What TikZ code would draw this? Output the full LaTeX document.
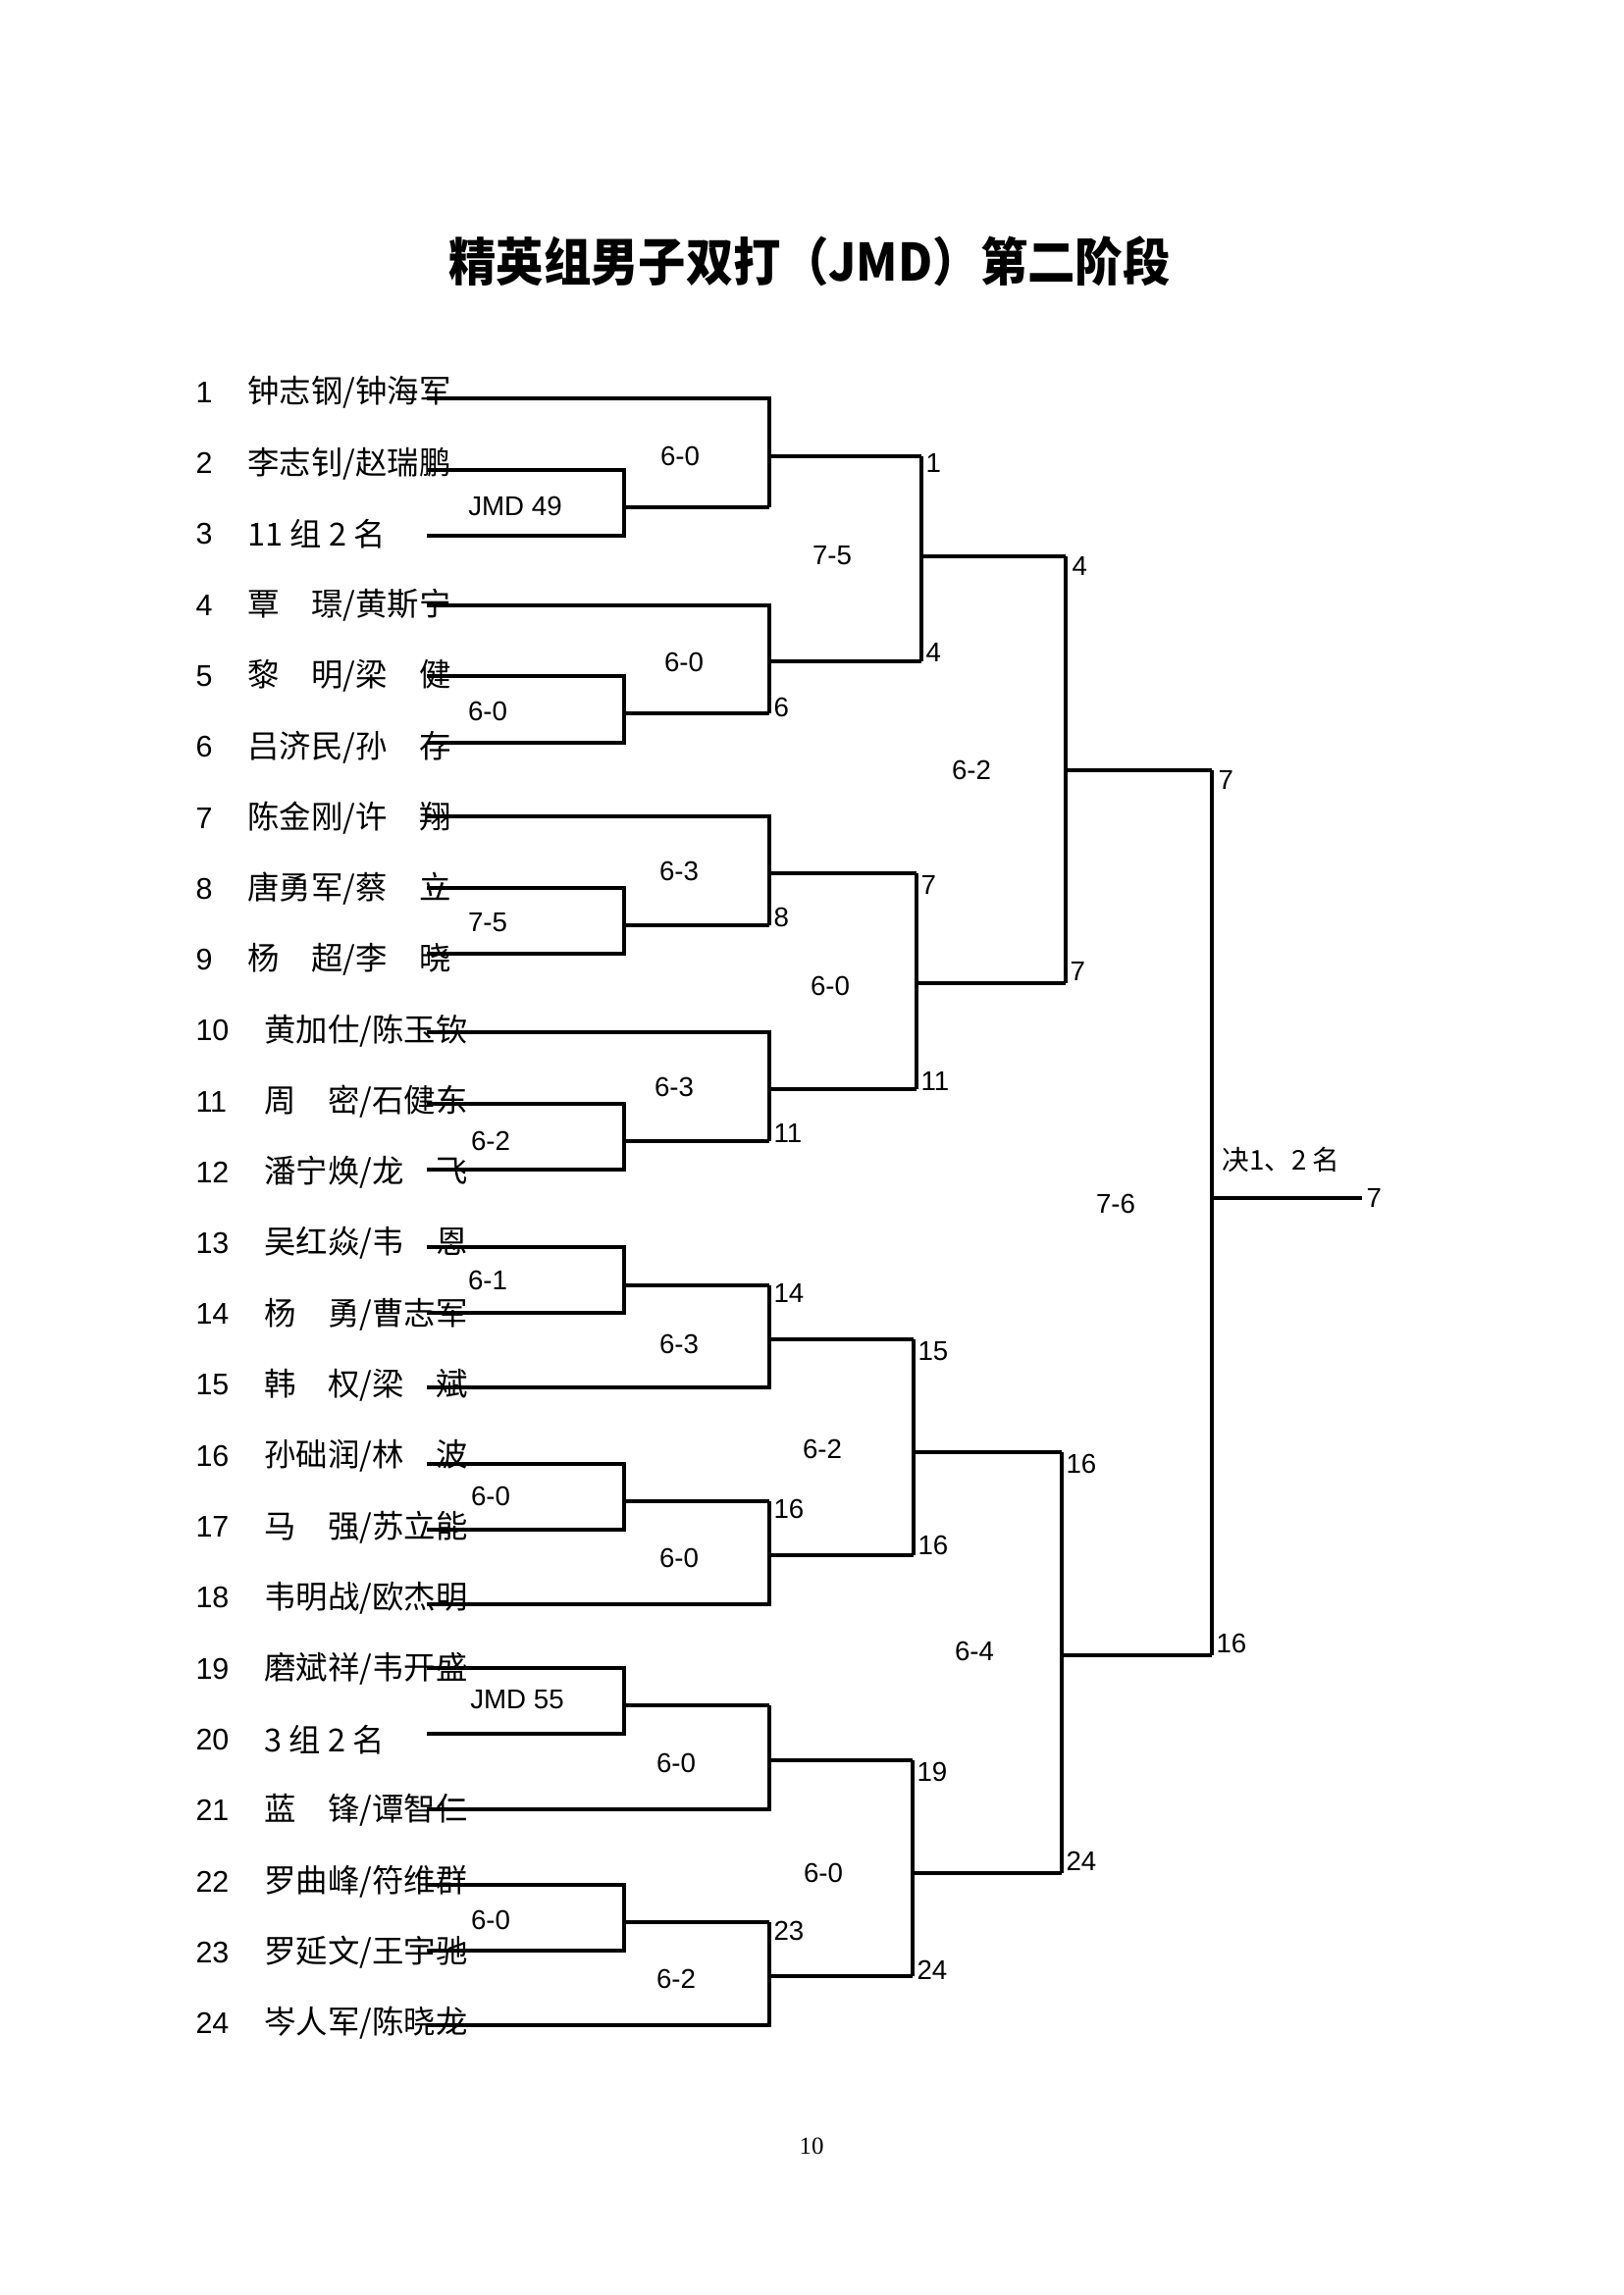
\documentclass[tikz,border=0pt]{standalone}
\usepackage{fontspec}
\setmainfont{Liberation Sans}
\newfontfamily\cjk{Noto Sans CJK SC}
\newfontfamily\pagefont{Liberation Serif}
\begin{document}
\begin{tikzpicture}[x=0.0127cm,y=-0.0127cm,
  bl/.style={line width=1.15pt,line join=miter},
  tk/.style={line width=1.6pt,line join=miter},
  num/.style={font=\fontsize{11}{13}\selectfont,anchor=west,inner sep=0pt},
  nm/.style={font=\cjk\fontsize{11.7}{13}\selectfont,anchor=west,inner sep=0pt},
  sc/.style={font=\fontsize{10}{12}\selectfont,inner sep=0pt},
  lb/.style={font=\fontsize{10}{12}\selectfont,anchor=west,inner sep=0pt}]
\useasboundingbox (0,0) rectangle (1654,2339);

% title
\node[font=\cjk\bfseries\fontsize{19}{21}\selectfont,inner sep=0pt,xscale=0.92] (title) at (825,266) {精英组男子双打（JMD）第二阶段};

% row numbers and names
\node[num] (n1) at (199,400) {1};     \node[nm] (p1) at (252,400) {钟志钢/钟海军};
\node[num] (n2) at (199,472.3) {2};   \node[nm] (p2) at (252,472.3) {李志钊/赵瑞鹏};
\node[num] (n3) at (199,544.5) {3};   \node[nm] (p3) at (252,544.5) {11 组 2 名};
\node[num] (n4) at (199,616.8) {4};   \node[nm] (p4) at (252,616.8) {覃　璟/黄斯宁};
\node[num] (n5) at (199,689) {5};     \node[nm] (p5) at (252,689) {黎　明/梁　健};
\node[num] (n6) at (199,761.3) {6};   \node[nm] (p6) at (252,761.3) {吕济民/孙　存};
\node[num] (n7) at (199,833.6) {7};   \node[nm] (p7) at (252,833.6) {陈金刚/许　翔};
\node[num] (n8) at (199,905.8) {8};   \node[nm] (p8) at (252,905.8) {唐勇军/蔡　立};
\node[num] (n9) at (199,978.1) {9};   \node[nm] (p9) at (252,978.1) {杨　超/李　晓};
\node[num] (n10) at (199,1050.3) {10}; \node[nm] (p10) at (269,1050.3) {黄加仕/陈玉钦};
\node[num] (n11) at (199,1122.6) {11}; \node[nm] (p11) at (269,1122.6) {周　密/石健东};
\node[num] (n12) at (199,1194.9) {12}; \node[nm] (p12) at (269,1194.9) {潘宁焕/龙　飞};
\node[num] (n13) at (199,1267.1) {13}; \node[nm] (p13) at (269,1267.1) {吴红焱/韦　恩};
\node[num] (n14) at (199,1339.4) {14}; \node[nm] (p14) at (269,1339.4) {杨　勇/曹志军};
\node[num] (n15) at (199,1411.6) {15}; \node[nm] (p15) at (269,1411.6) {韩　权/梁　斌};
\node[num] (n16) at (199,1483.9) {16}; \node[nm] (p16) at (269,1483.9) {孙础润/林　波};
\node[num] (n17) at (199,1556.2) {17}; \node[nm] (p17) at (269,1556.2) {马　强/苏立能};
\node[num] (n18) at (199,1628.4) {18}; \node[nm] (p18) at (269,1628.4) {韦明战/欧杰明};
\node[num] (n19) at (199,1700.7) {19}; \node[nm] (p19) at (269,1700.7) {磨斌祥/韦开盛};
\node[num] (n20) at (199,1772.9) {20}; \node[nm] (p20) at (269,1772.9) {3 组 2 名};
\node[num] (n21) at (199,1845.2) {21}; \node[nm] (p21) at (269,1845.2) {蓝　锋/谭智仁};
\node[num] (n22) at (199,1917.5) {22}; \node[nm] (p22) at (269,1917.5) {罗曲峰/符维群};
\node[num] (n23) at (199,1989.7) {23}; \node[nm] (p23) at (269,1989.7) {罗延文/王宇驰};
\node[num] (n24) at (199,2062) {24};   \node[nm] (p24) at (269,2062) {岑人军/陈晓龙};

% ---- bracket lines ----
% block A (rows 1-3)
\draw[bl] (435,479) -- (636,479) -- (636,546) -- (435,546);
\draw[bl] (636,517) -- (784,517);
\draw[bl] (435,406) -- (784,406) -- (784,517);
\draw[tk] (784,465) -- (939,465);
% block B (rows 4-6)
\draw[bl] (435,689) -- (636,689) -- (636,757) -- (435,757);
\draw[bl] (636,727) -- (784,727);
\draw[bl] (435,617) -- (784,617) -- (784,727);
\draw[bl] (784,674) -- (939,674);
% round 3, first
\draw[tk] (939,465) -- (939,674);
\draw[bl] (939,567) -- (1086,567);
% block C (rows 7-9)
\draw[bl] (435,905) -- (636,905) -- (636,972) -- (435,972);
\draw[bl] (636,943) -- (784,943);
\draw[bl] (435,832) -- (784,832) -- (784,943);
\draw[bl] (784,890) -- (934,890);
% block D (rows 10-12)
\draw[bl] (435,1125) -- (636,1125) -- (636,1192) -- (435,1192);
\draw[bl] (636,1163) -- (784,1163);
\draw[bl] (435,1052) -- (784,1052) -- (784,1163);
\draw[bl] (784,1110) -- (934,1110);
% round 3, second
\draw[bl] (934,890) -- (934,1110);
\draw[bl] (934,1002) -- (1086,1002);
% round 4, top
\draw[bl] (1086,567) -- (1086,1002);
\draw[bl] (1086,785) -- (1235,785);
% block E (rows 13-15)
\draw[bl] (435,1271) -- (636,1271) -- (636,1338) -- (435,1338);
\draw[bl] (636,1310) -- (784,1310);
\draw[bl] (435,1414) -- (784,1414) -- (784,1310);
\draw[bl] (784,1365) -- (931,1365);
% block F (rows 16-18)
\draw[bl] (435,1492) -- (636,1492) -- (636,1559) -- (435,1559);
\draw[bl] (636,1530) -- (784,1530);
\draw[bl] (435,1635) -- (784,1635) -- (784,1530);
\draw[bl] (784,1585) -- (931,1585);
% round 3, third
\draw[bl] (931,1365) -- (931,1585);
\draw[bl] (931,1480) -- (1082,1480);
% block G (rows 19-21)
\draw[bl] (435,1700) -- (636,1700) -- (636,1767) -- (435,1767);
\draw[bl] (636,1738) -- (784,1738);
\draw[bl] (435,1844) -- (784,1844) -- (784,1738);
\draw[bl] (784,1794) -- (930,1794);
% block H (rows 22-24)
\draw[bl] (435,1921) -- (636,1921) -- (636,1988) -- (435,1988);
\draw[bl] (636,1959) -- (784,1959);
\draw[bl] (435,2064) -- (784,2064) -- (784,1959);
\draw[bl] (784,2014) -- (930,2014);
% round 3, fourth
\draw[bl] (930,1794) -- (930,2014);
\draw[bl] (930,1909) -- (1082,1909);
% round 4, bottom
\draw[bl] (1082,1480) -- (1082,1909);
\draw[bl] (1082,1687) -- (1235,1687);
% final
\draw[tk] (1235,785) -- (1235,1687);
\coordinate (fin) at (1388,1221);
\draw[bl] (1235,1221) -- (fin);

% ---- scores and winners ----
\node[sc] (s1) at (525,516) {JMD 49};
\node[sc] (s2) at (693,465) {6-0};
\node[sc] (s3) at (497,725) {6-0};
\node[sc] (s4) at (697,675) {6-0};
\node[lb] (w1) at (788,721) {6};
\node[lb] (w2) at (943,472) {1};
\node[lb] (w3) at (943,665) {4};
\node[sc] (s5) at (848,566) {7-5};

\node[sc] (s6) at (692,888) {6-3};
\node[sc] (s7) at (497,940) {7-5};
\node[lb] (w4) at (788,935) {8};
\node[sc] (s8) at (687,1108) {6-3};
\node[sc] (s9) at (500,1163) {6-2};
\node[lb] (w5) at (788,1155) {11};
\node[lb] (w6) at (938,902) {7};
\node[lb] (w7) at (938,1102) {11};
\node[sc] (s10) at (846,1005) {6-0};

\node[lb] (w8) at (1092,577) {4};
\node[lb] (w9) at (1090,990) {7};
\node[sc] (s11) at (990,785) {6-2};

\node[sc] (s12) at (497,1305) {6-1};
\node[sc] (s13) at (692,1370) {6-3};
\node[lb] (w10) at (788,1318) {14};
\node[sc] (s14) at (500,1525) {6-0};
\node[sc] (s15) at (692,1588) {6-0};
\node[lb] (w11) at (788,1538) {16};
\node[lb] (w12) at (935,1377) {15};
\node[lb] (w13) at (935,1575) {16};
\node[sc] (s16) at (838,1477) {6-2};

\node[sc] (s17) at (527,1732) {JMD 55};
\node[sc] (s18) at (689,1797) {6-0};
\node[lb] (w14) at (934,1806) {19};
\node[sc] (s19) at (500,1957) {6-0};
\node[lb] (w15) at (788,1968) {23};
\node[sc] (s20) at (689,2017) {6-2};
\node[lb] (w16) at (934,2008) {24};
\node[sc] (s21) at (839,1909) {6-0};

\node[lb] (w17) at (1086,1492) {16};
\node[lb] (w18) at (1086,1897) {24};
\node[sc] (s22) at (993,1683) {6-4};

\node[lb] (w19) at (1241,795) {7};
\node[lb] (w20) at (1239,1675) {16};
\node[font=\cjk\fontsize{10}{12}\selectfont,anchor=west,inner sep=0pt] (fl) at (1245,1182) {决1、2 名};
\node[sc] (s23) at (1137,1227) {7-6};
\node[lb] (w21) at (1392,1221) {7};

% page number
\node[font=\pagefont\fontsize{9}{11}\selectfont,inner sep=0pt] (pg) at (827,2187) {10};
\end{tikzpicture}
\end{document}
